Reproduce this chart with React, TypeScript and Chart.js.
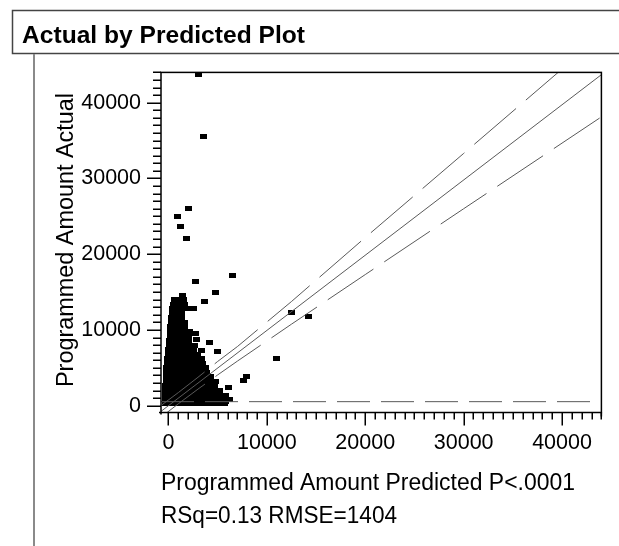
import { useEffect, useRef } from "react";
import { Chart, registerables } from "chart.js";

Chart.register(...registerables);

// ---------- data ----------
const xTickValues = [0, 10000, 20000, 30000, 40000];
const yTickValues = [0, 10000, 20000, 30000, 40000];
const xMin = -760;
const xMax = 44000;
const yMin = -900;
const yMax = 44000;

const outlierPredicted = [3100, 3600, 2050, 950, 1200, 1880, 6530, 2780, 4750, 1420, 3620, 2500, 12460, 14190, 10940, 7950, 7610, 6080, 5800, 4220, 4980, 3400, 2700, 2870];
const outlierActual = [43700, 35500, 26000, 25000, 23650, 22100, 17230, 16400, 14980, 14600, 13780, 12860, 12290, 11760, 6170, 3830, 3300, 2340, 580, 8350, 7130, 7300, 9500, 8680];

const clusterActual = [14000, 13400, 12800, 12200, 11600, 11000, 10400, 9800, 9200, 8600, 8000, 7400, 6800, 6200, 5600, 5000, 4400, 3800, 3200, 2600, 2000, 1400, 800, 300];
const clusterPredicted = [
  [600, 1100, 1500],
  [500, 1000, 1600],
  [400, 900, 1400, 1800],
  [400, 900, 1300],
  [300, 800, 1300],
  [300, 800, 1200, 1600],
  [200, 700, 1200, 1600],
  [200, 700, 1200, 1700, 2100],
  [200, 700, 1100, 1600, 2000],
  [100, 600, 1100, 1500, 2000],
  [100, 600, 1100, 1600, 2100, 2600],
  [0, 500, 1000, 1500, 2000, 2500],
  [0, 500, 1000, 1500, 2000, 2500, 3000],
  [-100, 400, 900, 1400, 1900, 2400, 2900, 3400],
  [-100, 400, 900, 1400, 1900, 2400, 2900, 3500],
  [-200, 300, 800, 1300, 1800, 2300, 2800, 3300, 3800],
  [-200, 300, 800, 1300, 1800, 2300, 2800, 3300, 3900],
  [-200, 300, 800, 1300, 1800, 2300, 2800, 3300, 3800, 4300],
  [-200, 300, 800, 1300, 1800, 2300, 2800, 3300, 3800, 4400, 4800],
  [-300, 200, 700, 1200, 1700, 2200, 2700, 3200, 3700, 4200, 4700],
  [-300, 200, 700, 1200, 1700, 2200, 2700, 3200, 3700, 4200, 4700, 5200],
  [-300, 200, 700, 1200, 1700, 2200, 2700, 3200, 3700, 4200, 4700, 5300, 5800],
  [-300, 200, 700, 1200, 1700, 2200, 2700, 3200, 3700, 4200, 4700, 5200, 5700, 6200],
  [-300, 200, 700, 1200, 1700, 2200, 2700, 3200, 3700, 4200, 4700, 5200, 5700],
];

const fitPredicted = [-760, 44000];
const fitActual = [-750, 43700];
const bandPredicted = [-760, 1000, 3000, 5000, 7000, 12500, 20000, 30000, 44000];
const upperActual = [20, 1730, 3750, 5840, 7800, 13750, 22200, 33300, 48900];
const lowerActual = [-1520, 250, 2190, 4060, 5880, 10760, 17310, 26000, 38130];
const meanActual = 530;

const titleText = "Actual by Predicted Plot";
const xTitle = "Programmed Amount Predicted P<.0001";
const yTitle = "Programmed Amount Actual";
const statsText = "RSq=0.13 RMSE=1404";

// ---------- helpers ----------
const FAMILY = '"Liberation Sans", Arial, Helvetica, sans-serif';

function fitText(ctx: CanvasRenderingContext2D, text: string, x: number, y: number, size: number, width: number, bold = false) {
  ctx.font = `${bold ? "bold " : ""}${size}px ${FAMILY}`;
  const w = ctx.measureText(text).width;
  ctx.save();
  ctx.translate(x, y);
  ctx.scale(width / w, 1);
  ctx.textAlign = "left";
  ctx.textBaseline = "alphabetic";
  ctx.fillText(text, 0, 0);
  ctx.restore();
}

function makeMarker() {
  const c = document.createElement("canvas");
  c.width = 7;
  c.height = 5;
  const g = c.getContext("2d")!;
  g.fillStyle = "#000";
  g.fillRect(0, 0, 7, 5);
  return c;
}

const decorPlugin = {
  id: "decor",
  beforeDraw(chart: any) {
    const ctx: CanvasRenderingContext2D = chart.ctx;
    ctx.save();
    ctx.fillStyle = "#fff";
    ctx.fillRect(0, 0, chart.width, chart.height);
    // title box
    ctx.strokeStyle = "#444";
    ctx.lineWidth = 1.5;
    ctx.strokeRect(12.5, 10.5, 700, 43);
    // left outline
    ctx.strokeStyle = "#8a8a8a";
    ctx.lineWidth = 2;
    ctx.beginPath();
    ctx.moveTo(34, 54);
    ctx.lineTo(34, chart.height);
    ctx.stroke();
    ctx.fillStyle = "#000";
    fitText(ctx, titleText, 22, 43, 24.5, 283, true);
    ctx.restore();
  },
  afterDraw(chart: any) {
    const ctx: CanvasRenderingContext2D = chart.ctx;
    const { left, right, top, bottom } = chart.chartArea;
    const xs = chart.scales.x;
    const ys = chart.scales.y;
    ctx.save();
    ctx.strokeStyle = "#000";
    ctx.lineWidth = 1.5;
    ctx.strokeRect(left, top, right - left, bottom - top);
    ctx.beginPath();
    ctx.moveTo(left, bottom);
    ctx.lineTo(left, bottom + 2);
    ctx.moveTo(left, bottom);
    ctx.lineTo(left - 2, bottom);
    ctx.moveTo(right, bottom);
    ctx.lineTo(right, bottom + 4);
    ctx.stroke();
    ctx.lineWidth = 1.5;
    ctx.beginPath();
    for (let v = 0; v <= yMax; v += 1000) {
      const p = Math.round(ys.getPixelForValue(v)) + 0.25;
      const len = v % 10000 === 0 ? 14 : 8;
      ctx.moveTo(left - len, p);
      ctx.lineTo(left, p);
    }
    for (let v = 0; v <= xMax; v += 1000) {
      const p = Math.round(xs.getPixelForValue(v)) + 0.25;
      const len = v % 10000 === 0 ? 13 : 7;
      ctx.moveTo(p, bottom);
      ctx.lineTo(p, bottom + len);
    }
    ctx.stroke();
    ctx.fillStyle = "#000";
    fitText(ctx, xTitle, 161, 490, 23.5, 414);
    fitText(ctx, statsText, 161, 523, 23.5, 236);
    // y title
    ctx.save();
    ctx.translate(73, 240);
    ctx.rotate(-Math.PI / 2);
    ctx.font = `23.5px ${FAMILY}`;
    const w = ctx.measureText(yTitle).width;
    ctx.scale(294 / w, 1);
    ctx.textAlign = "center";
    ctx.textBaseline = "alphabetic";
    ctx.fillText(yTitle, 0, 0);
    ctx.restore();
    ctx.restore();
  },
};

export default function App() {
  const ref = useRef<HTMLCanvasElement | null>(null);
  useEffect(() => {
    if (!ref.current) return;
    const marker = makeMarker();
    const points: { x: number; y: number }[] = [];
    clusterActual.forEach((a, i) => clusterPredicted[i].forEach((p) => points.push({ x: p, y: a })));
    outlierPredicted.forEach((p, i) => points.push({ x: p, y: outlierActual[i] }));
    const lineDs = (xsArr: number[], ysArr: number[], dash: number[], color: string) => ({
      data: xsArr.map((x, i) => ({ x, y: ysArr[i] })),
      showLine: true,
      borderColor: color,
      borderWidth: 1,
      borderDash: dash,
      pointRadius: 0,
      fill: false,
      tension: 0,
      order: 0,
    });
    const chart = new Chart(ref.current, {
      type: "scatter",
      data: {
        datasets: [
          lineDs(fitPredicted, fitActual, [], "#5a5a5a"),
          lineDs(bandPredicted, upperActual, [55, 13], "#5a5a5a"),
          lineDs(bandPredicted, lowerActual, [55, 13], "#5a5a5a"),
          lineDs([xMin, xMax], [meanActual, meanActual], [33, 11], "#5a5a5a"),
          {
            data: points,
            pointStyle: marker as any,
            pointRadius: 3,
            pointHoverRadius: 3,
            order: 1,
          } as any,
        ],
      },
      options: {
        animation: false,
        responsive: false,
        maintainAspectRatio: false,
        events: [],
        layout: { padding: { left: 0, top: 72.4, right: 17.6, bottom: 93.5 } },
        plugins: { legend: { display: false }, tooltip: { enabled: false } },
        scales: {
          x: {
            type: "linear",
            min: xMin,
            max: xMax,
            grid: { display: false, drawTicks: false },
            border: { display: false },
            ticks: {
              color: "#000",
              font: { size: 21.5, family: FAMILY },
              padding: 18,
              maxRotation: 0,
              autoSkip: false,
              callback: (v: any) => String(v),
            },
            afterBuildTicks: (s: any) => {
              s.ticks = xTickValues.map((value) => ({ value }));
            },
            afterFit: (s: any) => {
              s.height = 40;
            },
          },
          y: {
            type: "linear",
            min: yMin,
            max: yMax,
            grid: { display: false, drawTicks: false },
            border: { display: false },
            ticks: {
              color: "#000",
              font: { size: 21.5, family: FAMILY },
              padding: 20,
              autoSkip: false,
              callback: (v: any) => String(v),
            },
            afterBuildTicks: (s: any) => {
              s.ticks = yTickValues.map((value) => ({ value }));
            },
            afterFit: (s: any) => {
              s.width = 161;
            },
          },
        },
      },
      plugins: [decorPlugin],
    });
    return () => chart.destroy();
  }, []);
  return (
    <div style={{ position: "absolute", left: 0, top: 0, width: 619, height: 546, background: "#fff" }}>
      <canvas ref={ref} width={619} height={546} style={{ display: "block", width: 619, height: 546 }} />
    </div>
  );
}
